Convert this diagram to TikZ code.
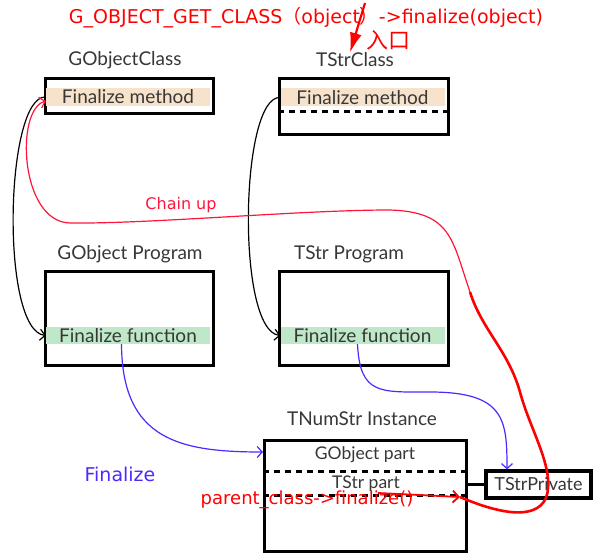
\documentclass[tikz,border=0pt]{standalone}
\usepackage{fontspec}
\setmainfont{Lato}
\newfontfamily\notefont{DejaVu Sans}
\newfontfamily\cjk{Noto Sans CJK SC}
\usetikzlibrary{arrows.meta}
\usetikzlibrary{positioning}

\definecolor{labelgray}{RGB}{55,55,55}
\definecolor{bandtan}{RGB}{247,227,204}
\definecolor{bandgreen}{RGB}{190,232,200}
\definecolor{noteblue}{RGB}{80,40,255}
\definecolor{notered}{RGB}{255,0,0}
\definecolor{chainred}{RGB}{255,20,60}

\begin{document}
\begin{tikzpicture}[x=1pt, y=-1pt,
  frame/.style={draw, line width=3.2pt, anchor=north west, inner sep=0pt},
  band/.style={fill=#1, minimum width=164pt, minimum height=18pt, inner sep=0pt,
    text=labelgray, font=\fontsize{19}{19}\selectfont},
  lbl/.style={text=labelgray, font=\fontsize{19}{19}\selectfont, inner sep=0pt},
  sep/.style={line width=3pt, dash pattern=on 6pt off 5pt},
  link/.style={line width=1.2pt, -{Straight Barb[length=5pt,width=11pt]}},
  redtxt/.style={text=notered, font=\notefont\fontsize{18}{18}\selectfont, inner sep=0pt}
]
\useasboundingbox (0,0) rectangle (605,559);

%% class structs
\node[frame, minimum width=168pt, minimum height=35pt] (gcls) at (44,77) {};
\node[frame, minimum width=169pt, minimum height=56pt] (tcls) at (278,77) {};
\node[band=bandtan] (gcm) at (128,97) {Finalize method};
\node[band=bandtan] (tcm) at (362.5,97.5) {Finalize method};
\draw[sep] (278,112) -- (447,112);
\node[lbl] (gclsname) at (125,60) {GObjectClass};
\node[lbl] (tclsname) at (355,60) {TStrClass};

%% programs
\node[frame, minimum width=168pt, minimum height=94pt] (gprg) at (44,270) {};
\node[frame, minimum width=169pt, minimum height=94pt] (tprg) at (278,270) {};
\node[band=bandgreen, minimum height=17pt] (gpf) at (128,335.5) {Finalize function};
\node[band=bandgreen, minimum height=17pt] (tpf) at (362.5,335.5) {Finalize function};
\node[lbl] (gprgname) at (130,254) {GObject Program};
\node[lbl] (tprgname) at (349,254) {TStr Program};

%% instance
\node[frame, minimum width=202pt, minimum height=111pt] (inst) at (263,439) {};
\draw[sep] (263,471) -- (465,471);
\draw[sep] (263,495) -- (465,495);
\node[lbl] (instname) at (362,419) {TNumStr Instance};
\node[lbl, font=\fontsize{17.5}{17.5}\selectfont] (gpart) at (365,455) {GObject part};
\node[lbl, font=\fontsize{17.5}{17.5}\selectfont] (tpart) at (366,484) {TStr part};
\node[draw, line width=3.2pt, minimum width=105pt, minimum height=27pt, inner sep=0pt,
  text=labelgray, font=\fontsize{18}{18}\selectfont] (priv) at (538.5,484.5) {TStrPrivate};
\draw[line width=3.2pt] (priv.west -| inst.east) -- (priv.west);

%% overrides
\draw[link] (gcm.west) .. controls (5,95) and (0,330) .. (gpf.west);
\draw[link] (tcm.west) .. controls (240,95) and (236,330) .. (tpf.west);

%% finalize calls
\draw[link, noteblue] ([xshift=-6.5pt]gpf.south) .. controls (122,440) and (180,452) .. ([yshift=-13pt]inst.north west);
\draw[link, noteblue] ([xshift=-5pt]tpf.south) .. controls (360,395) and (380,392) .. (430,392)
  .. controls (505,392) and (507,420) .. ([xshift=-31.5pt]priv.north);
\node[text=noteblue, font=\notefont\fontsize{19}{19}\selectfont, inner sep=0pt] (fin) at (120,474) {Finalize};

%% chain up
\node[redtxt] (pfin) at (307,500) {parent\_class->finalize()};
\coordinate (pstart) at (378,493);
\coordinate (hook) at (460,497);
\draw[notered, line width=1.8pt, -{Straight Barb[length=6pt,width=12pt]}] (pstart) -- (hook);
\draw[notered, line width=2.6pt] (hook) .. controls (495,512) and (535,522) .. (546,498)
  .. controls (556,470) and (530,430) .. (520,392) .. controls (508,350) and (482,330) .. (470,292)
  coordinate (turn);
\draw[link, chainred] (turn) .. controls (452,240) and (452,212) .. (390,210)
  .. controls (300,210) and (150,224) .. (70,223) .. controls (20,222) and (15,110) .. ([yshift=-4pt]gcm.west);
\node[text=chainred, font=\notefont\fontsize{16}{16}\selectfont, inner sep=0pt] (chain) at (181,205) {Chain up};

%% entry
\node[redtxt, font=\notefont\fontsize{19}{19}\selectfont] (title) at (306,18)
  {G\_OBJECT\_GET\_CLASS{\cjk （}object{\cjk ）}->finalize(object)};
\node[text=notered, font=\cjk\fontsize{22}{22}\selectfont, inner sep=0pt] (entry) at (388,40) {入口};
\coordinate (entrytop) at (365,3);
\draw[notered, line width=2.2pt, -{Latex[length=20pt,width=12pt]}] (entrytop) -- ([xshift=-5pt]tclsname.north);

\end{tikzpicture}
\end{document}
